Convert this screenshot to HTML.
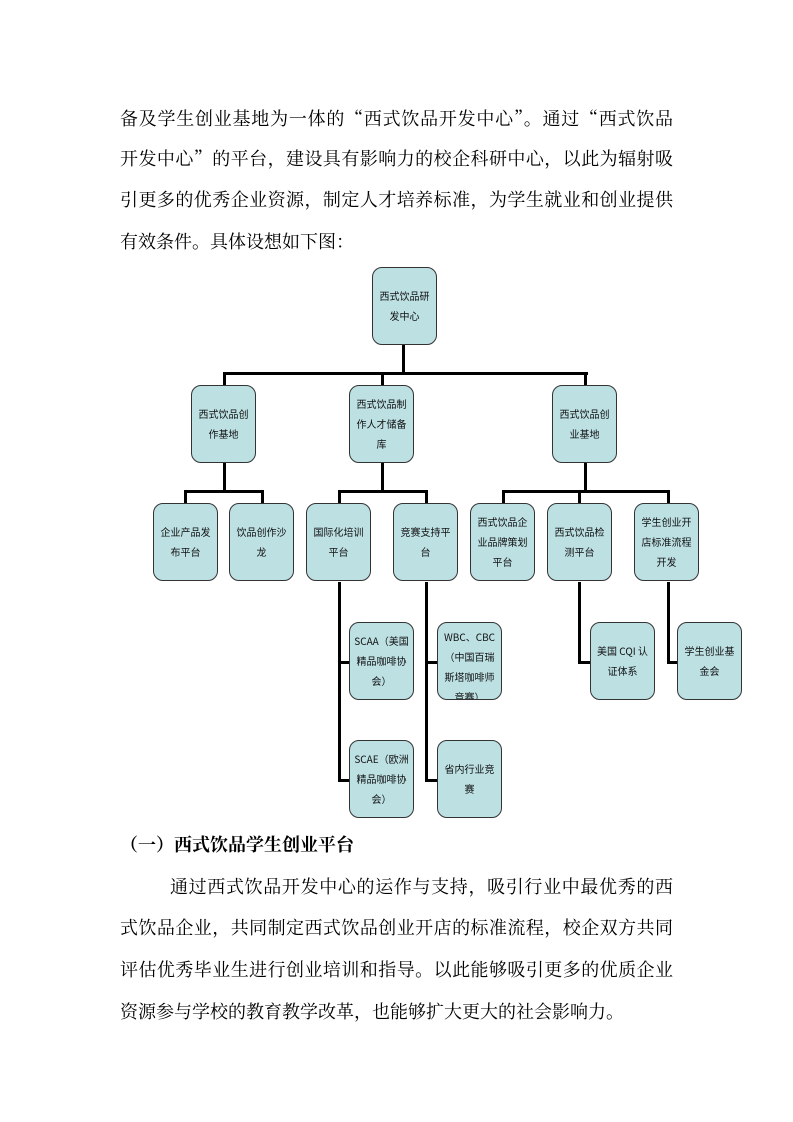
<!DOCTYPE html>
<html><head><meta charset="utf-8"><style>
body{margin:0;background:#fff;}
#p{position:relative;width:793px;height:1122px;overflow:hidden;font-family:"Liberation Serif","Noto Serif CJK SC","Noto Sans CJK SC",serif;color:#000;}
.q{font-family:"Noto Serif CJK SC","Noto Sans CJK SC",serif;}
.t{position:absolute;left:120px;width:553px;font-size:18px;line-height:24px;height:24px;text-align:justify;text-align-last:justify;white-space:nowrap;}
.t.n{text-align-last:left;}
.b{position:absolute;width:63px;height:76px;border:1.5px solid #333;border-radius:10px;background:#bde0e3;box-sizing:content-box;font-family:"Noto Sans CJK SC","WenQuanYi Zen Hei",sans-serif;font-size:10px;line-height:20px;text-align:center;display:flex;align-items:center;justify-content:center;overflow:hidden;color:#111;}
.b span{display:block;width:62px;}
.l{position:absolute;background:#000;}
</style></head><body><div id="p">
<div class="t" style="top:106px">备及学生创业基地为一体的<span class="q">“</span>西式饮品开发中心<span class="q">”</span>。通过<span class="q">“</span>西式饮品</div>
<div class="t" style="top:146px">开发中心<span class="q">”</span>的平台，建设具有影响力的校企科研中心，以此为辐射吸</div>
<div class="t" style="top:188px">引更多的优秀企业资源，制定人才培养标准，为学生就业和创业提供</div>
<div class="t n" style="top:230px">有效条件。具体设想如下图：</div>

<div class="l" style="left:402px;top:345px;width:3px;height:29px"></div>
<div class="l" style="left:223px;top:372px;width:365px;height:3px"></div>
<div class="l" style="left:223px;top:372px;width:3px;height:14px"></div>
<div class="l" style="left:381px;top:372px;width:3px;height:14px"></div>
<div class="l" style="left:584px;top:372px;width:3px;height:14px"></div>

<div class="l" style="left:223px;top:463px;width:3px;height:29px"></div>
<div class="l" style="left:184px;top:490px;width:80px;height:3px"></div>
<div class="l" style="left:184px;top:490px;width:3px;height:14px"></div>
<div class="l" style="left:261px;top:490px;width:3px;height:14px"></div>

<div class="l" style="left:381px;top:463px;width:3px;height:29px"></div>
<div class="l" style="left:338px;top:490px;width:90px;height:3px"></div>
<div class="l" style="left:338px;top:490px;width:3px;height:14px"></div>
<div class="l" style="left:425px;top:490px;width:3px;height:14px"></div>

<div class="l" style="left:584px;top:463px;width:3px;height:29px"></div>
<div class="l" style="left:502px;top:490px;width:168px;height:3px"></div>
<div class="l" style="left:502px;top:490px;width:3px;height:14px"></div>
<div class="l" style="left:578px;top:490px;width:3px;height:14px"></div>
<div class="l" style="left:667px;top:490px;width:3px;height:14px"></div>

<div class="l" style="left:338px;top:582px;width:3px;height:200px"></div>
<div class="l" style="left:338px;top:661px;width:12px;height:3px"></div>
<div class="l" style="left:338px;top:779px;width:12px;height:3px"></div>
<div class="l" style="left:425px;top:582px;width:3px;height:200px"></div>
<div class="l" style="left:425px;top:661px;width:12px;height:3px"></div>
<div class="l" style="left:425px;top:779px;width:12px;height:3px"></div>
<div class="l" style="left:578px;top:582px;width:3px;height:82px"></div>
<div class="l" style="left:578px;top:661px;width:13px;height:3px"></div>
<div class="l" style="left:667px;top:582px;width:3px;height:82px"></div>
<div class="l" style="left:667px;top:661px;width:11px;height:3px"></div>

<div class="b" style="left:372px;top:267px"><span>西式饮品研<br>发中心</span></div>
<div class="b" style="left:191px;top:385px"><span>西式饮品创<br>作基地</span></div>
<div class="b" style="left:349px;top:385px"><span>西式饮品制<br>作人才储备<br>库</span></div>
<div class="b" style="left:552px;top:385px"><span>西式饮品创<br>业基地</span></div>

<div class="b" style="left:153px;top:503px"><span>企业产品发<br>布平台</span></div>
<div class="b" style="left:229px;top:503px"><span>饮品创作沙<br>龙</span></div>
<div class="b" style="left:306px;top:503px"><span>国际化培训<br>平台</span></div>
<div class="b" style="left:393px;top:503px"><span>竞赛支持平<br>台</span></div>
<div class="b" style="left:470px;top:503px"><span>西式饮品企<br>业品牌策划<br>平台</span></div>
<div class="b" style="left:547px;top:503px"><span>西式饮品检<br>测平台</span></div>
<div class="b" style="left:634px;top:503px"><span>学生创业开<br>店标准流程<br>开发</span></div>

<div class="b" style="left:349px;top:622px"><span>SCAA（美国<br>精品咖啡协<br>会）</span></div>
<div class="b" style="left:437px;top:622px;align-items:flex-start"><span style="margin-top:4px">WBC、CBC<br>（中国百瑞<br>斯塔咖啡师<br>竞赛）</span></div>
<div class="b" style="left:590px;top:622px"><span>美国 CQI 认<br>证体系</span></div>
<div class="b" style="left:677px;top:622px"><span>学生创业基<br>金会</span></div>
<div class="b" style="left:349px;top:740px"><span>SCAE（欧洲<br>精品咖啡协<br>会）</span></div>
<div class="b" style="left:437px;top:740px"><span>省内行业竞<br>赛</span></div>

<div class="t n" style="top:833px;font-weight:bold">（一）西式饮品学生创业平台</div>
<div class="t" style="top:875px;left:170px;width:503px">通过西式饮品开发中心的运作与支持，吸引行业中最优秀的西</div>
<div class="t" style="top:916px">式饮品企业，共同制定西式饮品创业开店的标准流程，校企双方共同</div>
<div class="t" style="top:958px">评估优秀毕业生进行创业培训和指导。以此能够吸引更多的优质企业</div>
<div class="t n" style="top:1000px">资源参与学校的教育教学改革，也能够扩大更大的社会影响力。</div>
</div></body></html>
